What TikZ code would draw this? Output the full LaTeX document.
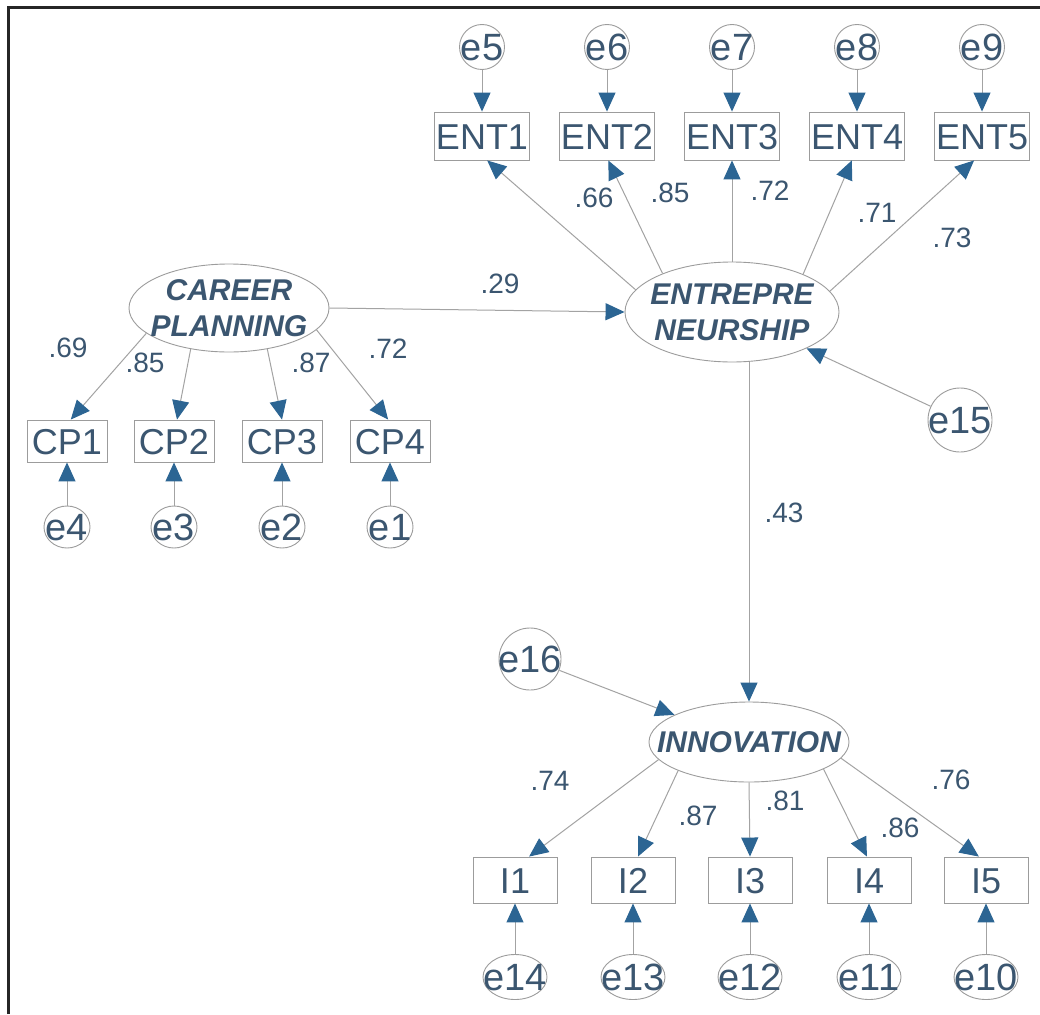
\documentclass[tikz,border=0pt]{standalone}
\usepackage{fontspec}
\setmainfont{Liberation Sans}
\usetikzlibrary{arrows.meta,shapes.geometric}
\definecolor{txt}{HTML}{3B5670}
\definecolor{tipblue}{HTML}{2C6593}
\definecolor{edge}{HTML}{A3A3A3}
\definecolor{outline}{HTML}{9C9C9C}

\begin{document}
\begin{tikzpicture}[x=1pt,y=-1pt,
  ind/.style={draw=outline, line width=0.9pt, inner sep=0pt, text=txt,
    font=\fontsize{36}{40}\selectfont, text height=26pt, text depth=0pt},
  entbox/.style={ind, minimum width=95pt, minimum height=48pt},
  cpbox/.style={ind, minimum width=80pt, minimum height=42pt},
  ibox/.style={ind, minimum width=84pt, minimum height=46pt},
  err/.style={ind, ellipse, minimum width=#1,
    font=\fontsize{38}{42}\selectfont, text height=27pt},
  err/.default=45pt,
  latent/.style={ellipse, draw=outline, line width=0.9pt, inner sep=0pt},
  lattext/.style={text=txt, font=\fontsize{30}{36}\selectfont\bfseries\itshape,
    align=center, inner sep=0pt},
  coef/.style={text=txt, font=\fontsize{28}{32}\selectfont, inner sep=0pt,
    text height=20pt, text depth=0pt},
  path/.style={draw=edge, line width=1pt,
    -{Triangle[length=19pt,width=17pt,color=tipblue]}}
]
\useasboundingbox (0,0) rectangle (1040,1014);
\fill[white] (0,0) rectangle (1040,1014);
% frame
\draw[line width=2.5pt, black!85] (8.5,1014) -- (8.5,7.5) -- (1040,7.5);

% latent variables
\node[latent, minimum width=200pt, minimum height=88pt,
  label={[lattext, name=cplab]center:CAREER\\PLANNING}] (cp) at (229,308) {};
\node[latent, minimum width=214pt, minimum height=100pt,
  label={[lattext, name=entlab]center:ENTREPRE\\NEURSHIP}] (ent) at (732,312) {};
\node[latent, minimum width=200pt, minimum height=80pt,
  label={[lattext, name=innlab]center:INNOVATION}] (inn) at (749,742) {};

% entrepreneurship indicators and errors
\foreach \i/\x/\e in {1/482/5, 2/607/6, 3/732/7, 4/857/8, 5/982/9} {
  \node[entbox] (ENT\i) at (\x,136) {ENT\i};
  \node[err, minimum height=45pt] (e\e) at (\x,47) {\makebox[0pt]{e\e}};
  \draw[path] (e\e) -- (ENT\i);
}

% career planning indicators and errors
\foreach \i/\x/\e in {1/67/4, 2/174/3, 3/282/2, 4/390/1} {
  \node[cpbox] (CP\i) at (\x,441) {CP\i};
  \node[err=46pt, minimum height=42pt] (e\e) at (\x,527) {\makebox[0pt]{e\e}};
  \draw[path] (e\e) -- (CP\i);
}

% innovation indicators and errors
\foreach \i/\x/\e in {1/515/14, 2/633/13, 3/750/12, 4/869/11, 5/986/10} {
  \node[ibox] (I\i) at (\x,880) {I\i};
  \node[err=64pt, minimum height=45pt] (e\e) at (\x,977) {\makebox[0pt]{e\e}};
  \draw[path] (e\e) -- (I\i);
}

% structural residuals
\node[err=64pt, minimum height=64pt] (e15) at (960,420) {\makebox[0pt]{e15}};
\node[err=62pt, minimum height=62pt] (e16) at (530,659) {\makebox[0pt]{e16}};

% loadings
\draw[path] (cp.197) -- (CP1.80);
\draw[path] (cp.227) -- (CP2.82);
\draw[path] (cp.313) -- (CP3.north);
\draw[path] (cp.346) -- (CP4.95);

\draw[path] (ent.167.5) -- (ENT1.-78);
\draw[path] (ent.151.6) -- (ENT2.-87);
\draw[path] (ent.90) -- (ENT3.south);
\draw[path] (ent.28.8) -- (ENT4.-102);
\draw[path] (ent.12.7) -- (ENT5.-108);

\draw[path] (inn.191.5) -- (I1.59);
\draw[path] (inn.202.6) -- (I2.78);
\draw[path] (inn.south) -- (I3.north);
\draw[path] (inn.-20) -- (I4.95);
\draw[path] (inn.-10) -- (I5.107);

% structural paths
\draw[path] (cp.east) -- (ent.west);
\draw[path] (ent.south -| inn.north) -- (inn.north);
\draw[path] (e15) -- (ent.-26);
\draw[path] (e16) -- (inn.160);

% coefficients
\node[coef] (c29) at (500,283) {.29};
\node[coef] (c69) at (68,347) {.69};
\node[coef] (c85a) at (145,362) {.85};
\node[coef] (c87a) at (311,362) {.87};
\node[coef] (c72a) at (388,348) {.72};
\node[coef] (c66) at (594,197) {.66};
\node[coef] (c85b) at (670,192) {.85};
\node[coef] (c72b) at (770,190) {.72};
\node[coef] (c71) at (877,212) {.71};
\node[coef] (c73) at (952,237) {.73};
\node[coef] (c43) at (784,512) {.43};
\node[coef] (c74) at (550,780) {.74};
\node[coef] (c87b) at (698,815) {.87};
\node[coef] (c81) at (785,800) {.81};
\node[coef] (c86) at (900,827) {.86};
\node[coef] (c76) at (951,779) {.76};
\end{tikzpicture}
\end{document}
